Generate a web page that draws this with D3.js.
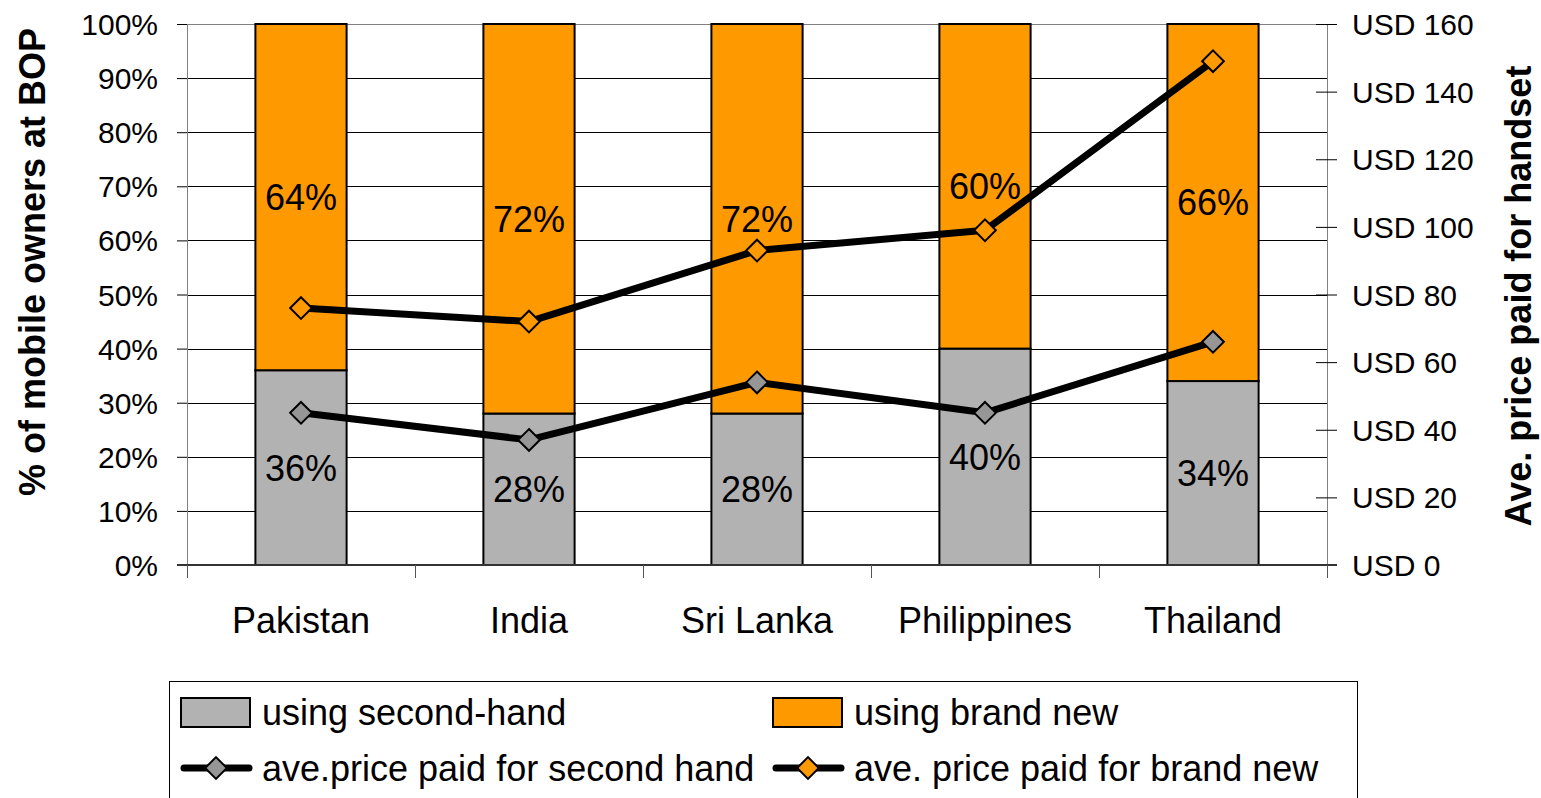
<!DOCTYPE html>
<html>
<head>
<meta charset="utf-8">
<script src="https://cdn.jsdelivr.net/npm/d3@7"></script>
<style>
  html, body { margin: 0; padding: 0; background: #fff; }
  svg { display: block; font-family: "Liberation Sans", Arial, sans-serif; }
</style>
</head>
<body>
<div class="container"></div>
<script>
// chart values
const countries = ['Pakistan', 'India', 'Sri Lanka', 'Philippines', 'Thailand']
const secondHandShare = [0.36, 0.28, 0.28, 0.40, 0.34]
const brandNewShare = [0.64, 0.72, 0.72, 0.60, 0.66]
const priceSecondHand = [45, 37, 54, 45, 66]
const priceBrandNew = [76, 72, 93, 99, 149]
const leftTicks = [0, 0.1, 0.2, 0.3, 0.4, 0.5, 0.6, 0.7, 0.8, 0.9, 1]
const rightTicks = [0, 20, 40, 60, 80, 100, 120, 140, 160]

const WIDTH = 1541
const HEIGHT = 798
const PLOT = { LEFT: 187, RIGHT: 1327, TOP: 24, BOTTOM: 565 }
const GRAY = '#B2B2B2'
const ORANGE = '#FF9900'
const MARKER_GRAY = '#969696'

const svg = d3.select('.container')
  .append('svg')
  .attr('width', WIDTH)
  .attr('height', HEIGHT)

const x = d3.scaleBand()
  .domain(countries)
  .range([PLOT.LEFT, PLOT.RIGHT])
  .padding(0)
const yLeft = d3.scaleLinear().domain([0, 1]).range([PLOT.BOTTOM, PLOT.TOP])
const yRight = d3.scaleLinear().domain([0, 160]).range([PLOT.BOTTOM, PLOT.TOP])

const barWidth = x.bandwidth() / 2.5
const cx = c => x(c) + x.bandwidth() / 2

// gridlines
svg.append('g')
  .selectAll('line')
  .data(leftTicks.filter(t => t > 0))
  .enter()
  .append('line')
    .attr('x1', PLOT.LEFT)
    .attr('x2', PLOT.RIGHT)
    .attr('y1', d => Math.round(yLeft(d)) + 0.5)
    .attr('y2', d => Math.round(yLeft(d)) + 0.5)
    .attr('stroke', d => d === 1 ? '#808080' : '#000')
    .attr('stroke-width', 1)

// stacked bars
const rows = countries.map((c, i) => ({ c, second: secondHandShare[i], brand: brandNewShare[i] }))
const bars = svg.append('g').attr('id', 'bars')
bars.selectAll('rect.second')
  .data(rows)
  .enter()
  .append('rect')
    .attr('class', 'second')
    .attr('x', d => cx(d.c) - barWidth / 2)
    .attr('width', barWidth)
    .attr('y', d => yLeft(d.second))
    .attr('height', d => yLeft(0) - yLeft(d.second))
    .attr('fill', GRAY)
    .attr('stroke', '#000')
    .attr('stroke-width', 2)
bars.selectAll('rect.brand')
  .data(rows)
  .enter()
  .append('rect')
    .attr('class', 'brand')
    .attr('x', d => cx(d.c) - barWidth / 2)
    .attr('width', barWidth)
    .attr('y', d => yLeft(d.second + d.brand))
    .attr('height', d => yLeft(d.second) - yLeft(d.second + d.brand))
    .attr('fill', ORANGE)
    .attr('stroke', '#000')
    .attr('stroke-width', 2)

// bar labels
const labels = svg.append('g')
  .attr('font-size', '36px')
  .attr('text-anchor', 'middle')
  .attr('fill', '#000')
labels.selectAll('text.second')
  .data(rows)
  .enter()
  .append('text')
    .attr('x', d => cx(d.c))
    .attr('y', d => yLeft(d.second / 2))
    .attr('dy', '0.36em')
    .text(d => d3.format('.0%')(d.second))
labels.selectAll('text.brand')
  .data(rows)
  .enter()
  .append('text')
    .attr('x', d => cx(d.c))
    .attr('y', d => yLeft(d.second + d.brand / 2))
    .attr('dy', '0.36em')
    .text(d => d3.format('.0%')(d.brand))

// axes
const leftAxis = svg.append('g')
  .attr('transform', `translate(${PLOT.LEFT}, 0)`)
  .call(d3.axisLeft(yLeft).tickValues(leftTicks).tickFormat(d3.format('.0%')).tickSize(10).tickPadding(19))
leftAxis.select('.domain').attr('stroke', '#808080').attr('d', `M0.5,${PLOT.TOP}V${PLOT.BOTTOM + 13}`)
leftAxis.selectAll('.tick line').attr('stroke', '#000')
leftAxis.selectAll('text').attr('font-size', '30px').attr('fill', '#000').attr('dy', '0.35em')

const rightAxis = svg.append('g')
  .attr('transform', `translate(${PLOT.RIGHT}, 0)`)
  .call(d3.axisRight(yRight).tickValues(rightTicks).tickFormat(d => `USD ${d}`).tickSize(10).tickPadding(15))
rightAxis.select('.domain').attr('stroke', '#808080').attr('d', `M0.5,${PLOT.TOP}V${PLOT.BOTTOM + 13}`)
rightAxis.selectAll('.tick line').attr('x1', -11).attr('stroke', '#000')
rightAxis.selectAll('text').attr('font-size', '30px').attr('fill', '#000').attr('dy', '0.35em')

// category axis
const bottomAxis = svg.append('g')
  .attr('transform', `translate(0, ${PLOT.BOTTOM})`)
  .call(d3.axisBottom(x).tickSize(0).tickPadding(42))
bottomAxis.select('.domain').attr('stroke', '#333').attr('stroke-width', 2).attr('d', `M${PLOT.LEFT - 10},0H${PLOT.RIGHT + 10}`)
bottomAxis.selectAll('text').attr('font-size', '36px').attr('fill', '#000')
bottomAxis.selectAll('.sep')
  .data(countries.map(c => x(c)).concat([PLOT.RIGHT]))
  .enter()
  .append('line')
    .attr('class', 'sep')
    .attr('x1', d => Math.round(d) + 0.5)
    .attr('x2', d => Math.round(d) + 0.5)
    .attr('y1', 0)
    .attr('y2', 13)
    .attr('stroke', '#555')

// price lines
const diamond = d3.symbol().type(d3.symbolDiamond2).size(300)
function drawSeries(values, fill) {
  const pts = countries.map((c, i) => [cx(c), yRight(values[i])])
  svg.append('path')
    .datum(pts)
    .attr('d', d3.line())
    .attr('fill', 'none')
    .attr('stroke', '#000')
    .attr('stroke-width', 7)
    .attr('stroke-linejoin', 'round')
  svg.append('g')
    .selectAll('path')
    .data(pts)
    .enter()
    .append('path')
      .attr('d', diamond)
      .attr('transform', d => `translate(${d[0]}, ${d[1]})`)
      .attr('fill', fill)
      .attr('stroke', '#000')
      .attr('stroke-width', 2)
}
drawSeries(priceSecondHand, MARKER_GRAY)
drawSeries(priceBrandNew, ORANGE)

// axis titles
svg.append('text')
  .text('% of mobile owners at BOP')
  .attr('transform', 'translate(45, 262) rotate(-90)')
  .attr('text-anchor', 'middle')
  .attr('font-size', '36px')
  .attr('font-weight', 'bold')
svg.append('text')
  .text('Ave. price paid for handset')
  .attr('transform', 'translate(1531, 296) rotate(-90)')
  .attr('text-anchor', 'middle')
  .attr('font-size', '36px')
  .attr('font-weight', 'bold')

// legend
const legend = svg.append('g')
legend.append('rect')
  .attr('x', 169.5).attr('y', 681.5)
  .attr('width', 1188).attr('height', 130)
  .attr('fill', '#fff').attr('stroke', '#000').attr('stroke-width', 1)

const legendItems = [
  { label: 'using second-hand', kind: 'box', fill: GRAY, x: 181, y: 712 },
  { label: 'using brand new', kind: 'box', fill: ORANGE, x: 773, y: 712 },
  { label: 'ave.price paid for second hand', kind: 'line', fill: MARKER_GRAY, x: 181, y: 768 },
  { label: 'ave. price paid for brand new', kind: 'line', fill: ORANGE, x: 773, y: 768 },
]
legendItems.forEach(item => {
  const g = legend.append('g').attr('transform', `translate(${item.x}, ${item.y})`)
  if (item.kind === 'box') {
    g.append('rect')
      .attr('x', 0).attr('y', -14).attr('width', 69).attr('height', 29)
      .attr('fill', item.fill).attr('stroke', '#000').attr('stroke-width', 2)
  } else {
    g.append('line')
      .attr('x1', 3).attr('x2', 68).attr('y1', 0).attr('y2', 0)
      .attr('stroke', '#000').attr('stroke-width', 7).attr('stroke-linecap', 'round')
    g.append('path')
      .attr('d', diamond)
      .attr('transform', 'translate(35, 0)')
      .attr('fill', item.fill).attr('stroke', '#000').attr('stroke-width', 2)
  }
  g.append('text')
    .text(item.label)
    .attr('x', 81)
    .attr('dy', '0.36em')
    .attr('font-size', '36px')
    .attr('fill', '#000')
})
</script>
</body>
</html>
